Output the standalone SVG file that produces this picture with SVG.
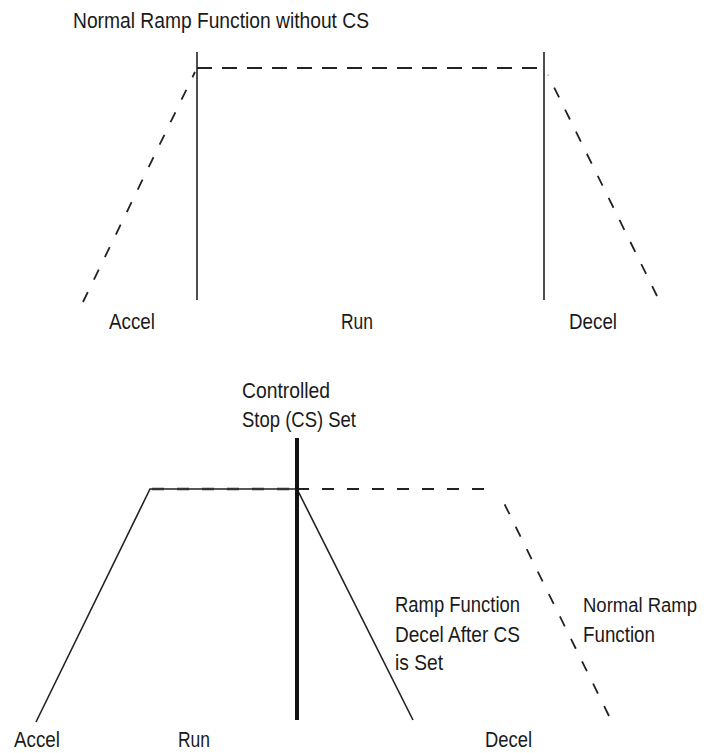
<svg xmlns="http://www.w3.org/2000/svg" width="706" height="753" viewBox="0 0 706 753">
<style>
text{font-family:"Liberation Sans",Arial,sans-serif;font-size:22px;fill:#1a1a1a}
.ln{stroke:#222;stroke-width:1.6;fill:none}
.dash{stroke:#222;stroke-width:1.8;fill:none;stroke-dasharray:15 10}
.dr{stroke:#222;stroke-width:1.8;fill:none;stroke-dasharray:11 14}
.thick{stroke:#111;stroke-width:4;fill:none}
</style>
<rect width="706" height="753" fill="#fff"/>
<g id="connectors">
<line class="ln" x1="197" y1="52" x2="197" y2="300"/>
<line class="ln" x1="544" y1="52" x2="544" y2="300"/>
<line class="dash" x1="197" y1="68" x2="544" y2="68"/>
<line class="dr" x1="83" y1="302" x2="195" y2="72"/>
<line class="dr" style="stroke-dasharray:11 13.6" x1="657" y1="296" x2="548" y2="75"/>
<polyline class="ln" points="36,722 150,489 297,489 413,720"/>
<line class="dash" style="stroke-dasharray:12 13;stroke-width:2.6;stroke:#333" x1="152" y1="489" x2="297" y2="489"/>
<line class="dash" style="stroke-dasharray:12 13" x1="297" y1="489" x2="493" y2="489"/>
<line class="dr" x1="609" y1="716" x2="501" y2="497"/>
<line class="thick" x1="297" y1="438" x2="297" y2="720"/>
</g>
<g id="title"><text x="73" y="28" textLength="296" lengthAdjust="spacingAndGlyphs">Normal Ramp Function without CS</text></g>
<g id="top-accel"><text x="109" y="329" textLength="46" lengthAdjust="spacingAndGlyphs">Accel</text></g>
<g id="top-run"><text x="341" y="329" textLength="32" lengthAdjust="spacingAndGlyphs">Run</text></g>
<g id="top-decel"><text x="569" y="329" textLength="48" lengthAdjust="spacingAndGlyphs">Decel</text></g>
<g id="cs-set">
<text x="242" y="398" textLength="88" lengthAdjust="spacingAndGlyphs">Controlled</text>
<text x="242" y="427" textLength="114" lengthAdjust="spacingAndGlyphs">Stop (CS) Set</text>
</g>
<g id="cs-ramp">
<text x="395" y="612" textLength="125" lengthAdjust="spacingAndGlyphs">Ramp Function</text>
<text x="395" y="642" textLength="125" lengthAdjust="spacingAndGlyphs">Decel After CS</text>
<text x="395" y="670" textLength="48" lengthAdjust="spacingAndGlyphs">is Set</text>
</g>
<g id="normal-ramp">
<text x="583" y="612" style="font-size:19.5px" textLength="114" lengthAdjust="spacingAndGlyphs">Normal Ramp</text>
<text x="583" y="642" textLength="72" lengthAdjust="spacingAndGlyphs">Function</text>
</g>
<g id="bottom-accel"><text x="14" y="747" textLength="46" lengthAdjust="spacingAndGlyphs">Accel</text></g>
<g id="bottom-run"><text x="178" y="747" textLength="32" lengthAdjust="spacingAndGlyphs">Run</text></g>
<g id="bottom-decel"><text x="485" y="747" textLength="47" lengthAdjust="spacingAndGlyphs">Decel</text></g>
</svg>
